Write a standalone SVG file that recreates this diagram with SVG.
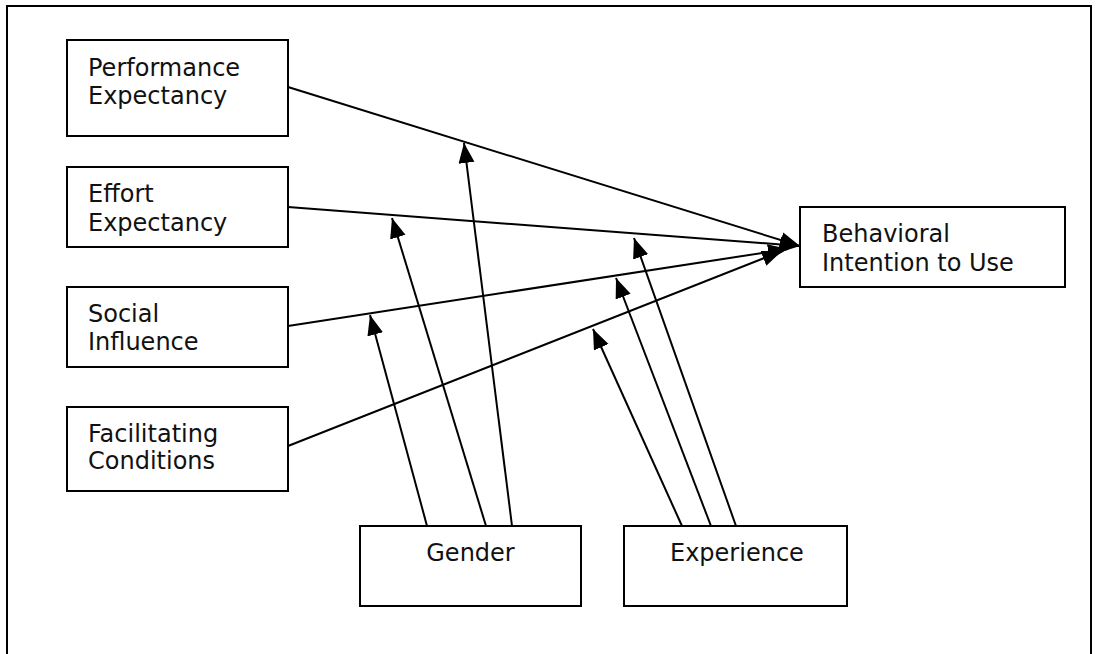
<svg xmlns="http://www.w3.org/2000/svg" width="1097" height="654" viewBox="0 0 1097 654">
<style>
.box{fill:#fff;stroke:#000;stroke-width:2}
.lbl{font-family:"DejaVu Sans",Verdana,sans-serif;font-size:24px;fill:#111}
.con line{stroke:#000;stroke-width:2;marker-end:url(#ah)}
</style>
<defs>
<marker id="ah" markerUnits="userSpaceOnUse" markerWidth="22" markerHeight="18" refX="20" refY="8" orient="auto">
<path d="M0,0 L20,8 L0,16 z" fill="#000"/>
</marker>
</defs>
<rect x="0" y="0" width="1097" height="654" fill="#fff"/>
<rect x="7" y="6" width="1084" height="660" fill="none" stroke="#000" stroke-width="2"/>
<g id="performance"><rect class="box" x="67" y="40" width="221" height="96"/><text class="lbl" x="88" y="76">Performance</text><text class="lbl" x="88" y="104">Expectancy</text></g>
<g id="effort"><rect class="box" x="67" y="167" width="221" height="80"/><text class="lbl" x="88" y="202">Effort</text><text class="lbl" x="88" y="231">Expectancy</text></g>
<g id="social"><rect class="box" x="67" y="287" width="221" height="80"/><text class="lbl" x="88" y="322">Social</text><text class="lbl" x="88" y="350">Influence</text></g>
<g id="facilitating"><rect class="box" x="67" y="407" width="221" height="84"/><text class="lbl" x="88" y="442">Facilitating</text><text class="lbl" x="88" y="469">Conditions</text></g>
<g id="behavioral"><rect class="box" x="800" y="207" width="265" height="80"/><text class="lbl" x="822" y="242">Behavioral</text><text class="lbl" x="822" y="271">Intention to Use</text></g>
<g id="gender"><rect class="box" x="360" y="526" width="221" height="80"/><text class="lbl" x="470.5" y="561" text-anchor="middle">Gender</text></g>
<g id="experience"><rect class="box" x="624" y="526" width="223" height="80"/><text class="lbl" x="670" y="561">Experience</text></g>
<g id="connectors" class="con">
<line x1="288" y1="87" x2="800" y2="246"/>
<line x1="288" y1="207" x2="800" y2="246"/>
<line x1="288" y1="326" x2="788" y2="249"/>
<line x1="288" y1="446" x2="782" y2="251"/>
<line x1="427" y1="526" x2="370" y2="315"/>
<line x1="486" y1="526" x2="392" y2="218"/>
<line x1="512" y1="526" x2="464" y2="143"/>
<line x1="682" y1="526" x2="593" y2="329"/>
<line x1="711" y1="526" x2="616" y2="278"/>
<line x1="736" y1="526" x2="634" y2="238"/>
</g>
</svg>
